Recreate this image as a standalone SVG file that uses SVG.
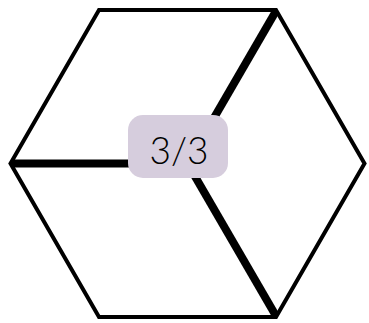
<svg xmlns="http://www.w3.org/2000/svg" width="369" height="323" viewBox="0 0 369 323">
<style>
.thin{fill:none;stroke:#000;stroke-width:4;stroke-linejoin:miter}
.thick{fill:none;stroke:#000;stroke-width:8;stroke-linecap:butt}
.lbl{font-family:Lato,"Liberation Sans",sans-serif;font-weight:300;font-size:37px;fill:#000}
</style>
<rect width="369" height="323" fill="#fff"/>
<g id="hexagon">
<polygon class="thin" points="10.5,163.5 99,10 276,10 364.5,163.5 276,317 99,317"/>
</g>
<g id="connectors">
<line class="thick" x1="187.5" y1="163.5" x2="12" y2="163.5"/>
<line class="thick" x1="187.5" y1="163.5" x2="276" y2="11"/>
<line class="thick" x1="187.5" y1="163.5" x2="276" y2="316"/>
</g>
<g id="label">
<rect x="128" y="115" width="100" height="63" rx="15" fill="#d6cddd"/>
<text class="lbl" x="179" y="164" text-anchor="middle">3/3</text>
</g>
</svg>
